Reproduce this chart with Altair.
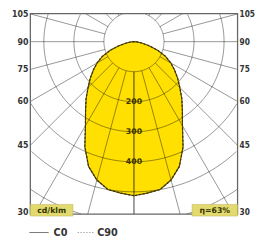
import numpy as np
import pandas as pd
import altair as alt

# ---- data ----
ANGLES = [0, 5, 10, 15, 20, 25, 30, 35, 40, 45, 50, 55, 60, 65, 70, 75, 80, 85, 90]
C0 = [513, 506, 500, 477, 442, 387, 323, 281, 248, 216, 190, 165, 142, 116, 84, 52, 26, 10, 0]
C90 = [513, 506, 500, 477, 442, 387, 323, 281, 248, 216, 190, 165, 142, 116, 84, 52, 26, 10, 0]
RINGS = [100, 200, 300, 400, 500, 600]
RING_LABELS = [200, 300, 400]
SPOKES = list(range(0, 181, 15))
ANGLE_LABELS = [105, 90, 75, 60, 45, 30]
UNIT_TEXT = "cd/klm"
LOR_TEXT = "η=63%"
LEGEND = ["C0", "C90"]

# ---- frame of the diagram (cd units) ----
BOX_X = 345.0
BOX_TOP = 93.5
BOX_BOTTOM = -574.0
X_DOMAIN = [-419.4, 409.7]
Y_DOMAIN = [-651.6, 100.0]

xs = alt.Scale(domain=X_DOMAIN, nice=False, zero=False)
ys = alt.Scale(domain=Y_DOMAIN, nice=False, zero=False)
FONT = "DejaVu Sans"
FONT_C = "DejaVu Sans Condensed, DejaVu Sans"


def inside(x, y):
    return (-BOX_X - 1e-6 <= x <= BOX_X + 1e-6) and (BOX_BOTTOM - 1e-6 <= y <= BOX_TOP + 1e-6)


# curve fill (horizontal area, symmetric)
th = np.radians(ANGLES)
r0 = np.array(C0, dtype=float)
fill_df = pd.DataFrame({"y": -r0 * np.cos(th), "x": r0 * np.sin(th), "xn": -r0 * np.sin(th)})


def outline(vals):
    r = np.array(vals, dtype=float)
    rows = []
    k = 0
    for a, v in zip(ANGLES, r):
        t = np.radians(a)
        rows.append({"x": -v * np.sin(t), "y": -v * np.cos(t), "o": k}); k += 1
    for a, v in reversed(list(zip(ANGLES, r))):
        t = np.radians(a)
        rows.append({"x": v * np.sin(t), "y": -v * np.cos(t), "o": k}); k += 1
    return pd.DataFrame(rows)


c0_df = outline(C0)
c90_df = outline(C90)

# rings, clipped to the frame
ring_rows = []
seg = 0
for R in RINGS:
    cur = []
    for d in np.arange(0, 360.5, 1.0):
        t = np.radians(d)
        x, y = R * np.sin(t), -R * np.cos(t)
        if inside(x, y):
            cur.append((x, y))
        else:
            if len(cur) > 1:
                for i, (px, py) in enumerate(cur):
                    ring_rows.append({"x": px, "y": py, "s": seg, "o": i})
                seg += 1
            cur = []
    if len(cur) > 1:
        for i, (px, py) in enumerate(cur):
            ring_rows.append({"x": px, "y": py, "s": seg, "o": i})
        seg += 1
ring_df = pd.DataFrame(ring_rows)

# spokes from first ring to frame
spoke_rows = []
sid = 0
for side in (-1, 1):
    for a in SPOKES:
        t = np.radians(a)
        dx, dy = side * np.sin(t), -np.cos(t)
        ts = []
        if abs(dx) > 1e-9:
            ts.append(BOX_X / abs(dx))
        if dy < -1e-9:
            ts.append(BOX_BOTTOM / dy)
        if dy > 1e-9:
            ts.append(BOX_TOP / dy)
        tmax = min(ts)
        r1 = RINGS[0]
        if tmax <= r1:
            continue
        spoke_rows.append({"x": r1 * dx, "y": r1 * dy, "s": sid, "o": 0})
        spoke_rows.append({"x": tmax * dx, "y": tmax * dy, "s": sid, "o": 1})
        sid += 1
spoke_df = pd.DataFrame(spoke_rows)

# angle labels
lab_rows = []
for a in ANGLE_LABELS:
    t = np.radians(a)
    y = -BOX_X * np.cos(t) / np.sin(t)
    y = max(y, BOX_BOTTOM + 8)
    lab_rows.append({"xl": -BOX_X, "xr": BOX_X, "y": y, "t": str(a)})
lab_df = pd.DataFrame(lab_rows)

rl_df = pd.DataFrame({"x": [0] * len(RING_LABELS), "y": [-v for v in RING_LABELS], "t": [str(v) for v in RING_LABELS]})
box_df = pd.DataFrame({"x": [-BOX_X], "x2": [BOX_X], "y": [BOX_BOTTOM], "y2": [BOX_TOP]})

X = lambda f="x": alt.X(f, type="quantitative", scale=xs, axis=None)
Y = lambda f="y": alt.Y(f, type="quantitative", scale=ys, axis=None)

fill = alt.Chart(fill_df).mark_area(orient="horizontal", color="#FFE000", opacity=1).encode(
    y=Y(), x=X(), x2="xn")

rings = alt.Chart(ring_df).mark_line(color="black", opacity=0.42, strokeWidth=1).encode(
    x=X(), y=Y(), detail="s:N", order="o:Q")
spokes = alt.Chart(spoke_df).mark_line(color="black", opacity=0.42, strokeWidth=1).encode(
    x=X(), y=Y(), detail="s:N", order="o:Q")

line0 = alt.Chart(c0_df).mark_line(color="#5a4c00", strokeWidth=1.2).encode(x=X(), y=Y(), order="o:Q")
line90 = alt.Chart(c90_df).mark_line(color="#3a3000", strokeWidth=1.2, strokeDash=[2, 2]).encode(
    x=X(), y=Y(), order="o:Q")

box = alt.Chart(box_df).mark_rect(fillOpacity=0, stroke="#666666", strokeWidth=1.3).encode(
    x=X(), x2="x2", y=Y(), y2="y2")

left_labels = alt.Chart(lab_df).mark_text(align="right", baseline="middle", dx=-2, font=FONT_C,
                                          fontWeight="bold", fontSize=9, color="#333333").encode(
    x=X("xl"), y=Y(), text="t:N")
right_labels = alt.Chart(lab_df).mark_text(align="left", baseline="middle", dx=2, font=FONT_C,
                                           fontWeight="bold", fontSize=8.5, color="#333333").encode(
    x=X("xr"), y=Y(), text="t:N")

ring_labels = alt.Chart(rl_df).mark_text(align="center", baseline="middle", font=FONT,
                                         fontWeight="bold", fontSize=8, color="#3a3000").encode(
    x=X(), y=Y(), text="t:N")

tag_df = pd.DataFrame({"x": [23, 190], "x2": [67, 237], "t": [UNIT_TEXT, LOR_TEXT], "xc": [45, 213.5]})
tags = alt.Chart(tag_df).mark_rect(fill="#E2DA6E", stroke="#b9b050", strokeWidth=0.5).encode(
    x=alt.X("x:Q", scale=None), x2="x2:Q", y=alt.value(199), y2=alt.value(211))
tag_text = alt.Chart(tag_df).mark_text(font=FONT, fontWeight="bold", fontSize=8, color="#333300",
                                       align="center", baseline="middle").encode(
    x=alt.X("xc:Q", scale=None), y=alt.value(205.5), text="t:N")

leg_df = pd.DataFrame({"t": LEGEND, "x": [22, 72], "x2": [42, 89], "xt": [47, 92], "k": ["s", "d"]})
leg_solid = alt.Chart(leg_df[leg_df.k == "s"]).mark_rule(color="#777777", strokeWidth=1).encode(
    x=alt.X("x:Q", scale=None), x2="x2:Q", y=alt.value(228))
leg_dot = alt.Chart(leg_df[leg_df.k == "d"]).mark_rule(color="#777777", strokeWidth=1, strokeDash=[1, 2]).encode(
    x=alt.X("x:Q", scale=None), x2="x2:Q", y=alt.value(228))
leg_text = alt.Chart(leg_df).mark_text(font=FONT, fontWeight="bold", fontSize=10, color="#333333",
                                       align="left", baseline="middle").encode(
    x=alt.X("xt:Q", scale=None), y=alt.value(229), text="t:N")

chart = alt.layer(
    fill, rings, spokes, line0, line90, box, left_labels, right_labels, ring_labels,
    tags, tag_text, leg_solid, leg_dot, leg_text
).resolve_scale(x="independent").properties(
    width=257, height=233, autosize=alt.AutoSizeParams(type="none"), padding=0
).configure_view(stroke=None)

chart.save("out.html", embed_options={"renderer": "svg", "actions": False})
